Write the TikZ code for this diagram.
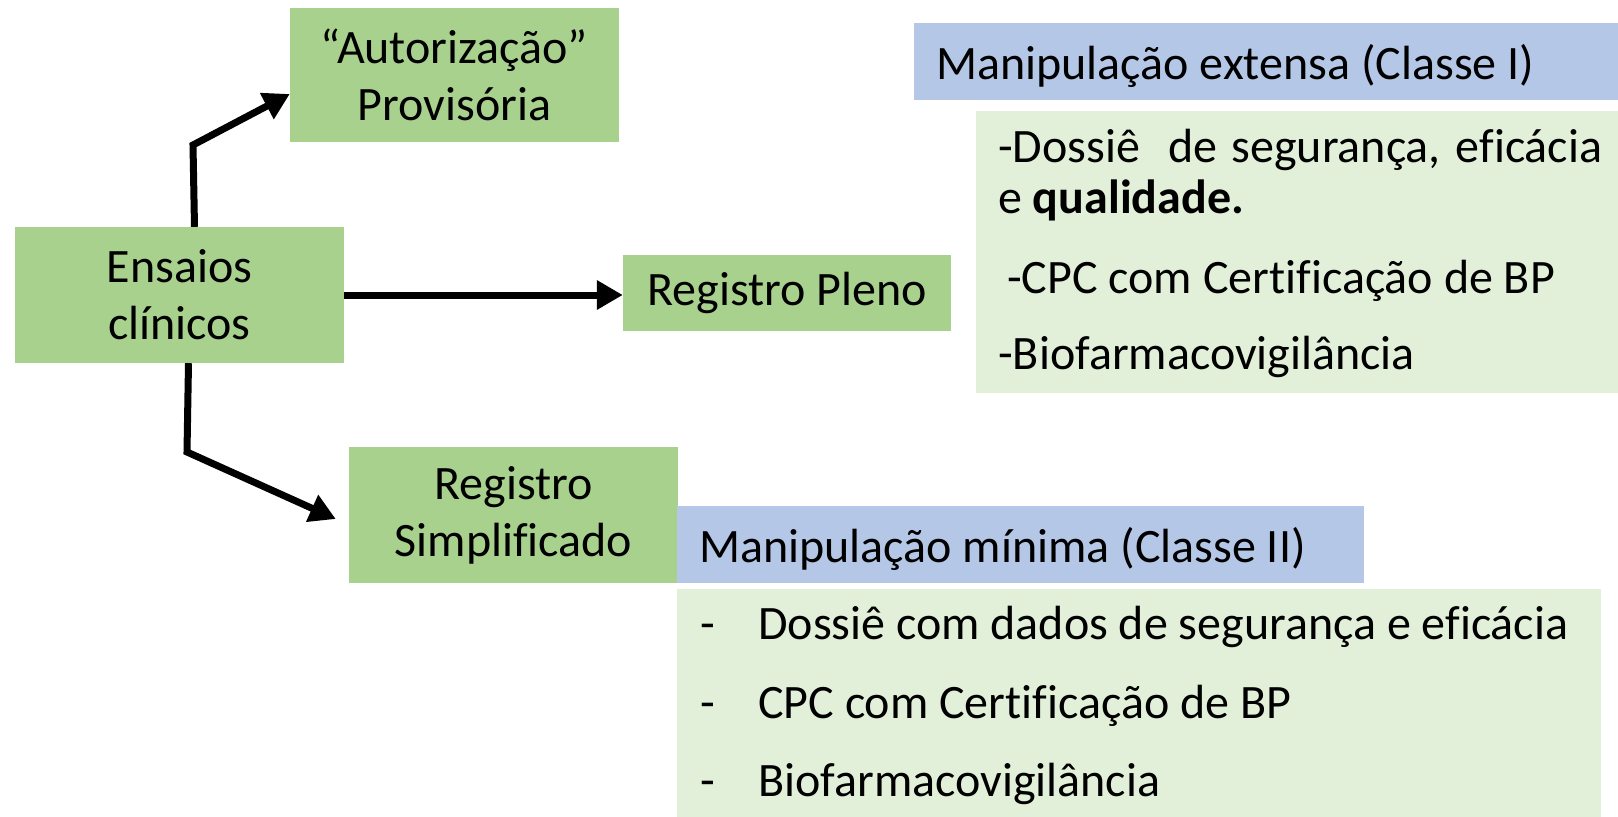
\documentclass[tikz,border=0pt]{standalone}
\usepackage{fontspec}
\setmainfont[Ligatures=NoCommon]{Carlito}
\usetikzlibrary{arrows.meta}
\definecolor{midgreen}{HTML}{A9D18E}
\definecolor{lightgreen}{HTML}{E2F0D9}
\definecolor{lightblue}{HTML}{B4C7E7}
\begin{document}
\begin{tikzpicture}[x=1pt,y=-1pt,
  box/.style={fill=midgreen,inner sep=0pt,align=center,font=\fontsize{48pt}{57pt}\selectfont},
  hdr/.style={fill=lightblue,inner sep=0pt},
  panel/.style={fill=lightgreen,inner sep=0pt},
  txt/.style={inner sep=0pt,anchor=base west,font=\fontsize{48pt}{57pt}\selectfont},
  arr/.style={line width=7pt,-{Triangle[length=26pt,width=28pt]}}]
\useasboundingbox (0,0) rectangle (1618,817);
% boxes
\node[box,minimum width=329pt,minimum height=134pt] (aut) at (454.5,75) {“Autorização”\\Provisória};
\node[box,minimum width=329pt,minimum height=136pt] (ens) at (179.5,295) {Ensaios\\clínicos};
\node[box,minimum width=328pt,minimum height=76pt] (pleno) at (787,293) {\raisebox{-3pt}{Registro Pleno}};
\node[box,minimum width=329pt,minimum height=136pt] (simp) at (513.5,515) {Registro\\Simplificado};
% right panels
\node[hdr,minimum width=704pt,minimum height=77pt] (h1) at (1266,61.5) {};
\node[panel,minimum width=642pt,minimum height=282pt] (p1) at (1297,252) {};
\node[panel,minimum width=924pt,minimum height=228pt] (p2) at (1139,703) {};
\node[hdr,minimum width=687pt,minimum height=77pt] (h2) at (1020.5,544.5) {};
% header texts
\node[txt] (h1t) at (936,79) {Manipulação extensa (Classe I)};
\node[txt] (h2t) at (699,562) {Manipulação mínima (Classe II)};
% top list
\node[txt] (l1) at (998,162) {\makebox[604pt][s]{-Dossiê \ de segurança, eficácia}};
\node[txt] (l2) at (998,213) {e \textbf{qualidade.}};
\node[txt] (l3) at (1007,293) {-CPC com Certificação de BP};
\node[txt] (l4) at (998,369) {-Biofarmacovigilância};
% bottom list
\node[txt] (d1) at (700,639) {-};
\node[txt] (m1) at (758,639) {Dossiê com dados de segurança e eficácia};
\node[txt] (d2) at (700,718) {-};
\node[txt] (m2) at (758,718) {CPC com Certificação de BP};
\node[txt] (d3) at (700,796) {-};
\node[txt] (m3) at (758,796) {Biofarmacovigilância};
% connectors
\coordinate (c1) at (193,145);
\coordinate (c2) at (187,452);
\draw[arr] ([xshift=15pt]ens.north) -- (c1) -- ([yshift=-19pt]aut.west);
\draw[arr] (ens.east) -- (ens.east -| pleno.west);
\draw[arr] ([xshift=9pt]ens.south) -- (c2) -- ([xshift=-13pt,yshift=-4pt]simp.west);
\end{tikzpicture}
\end{document}
